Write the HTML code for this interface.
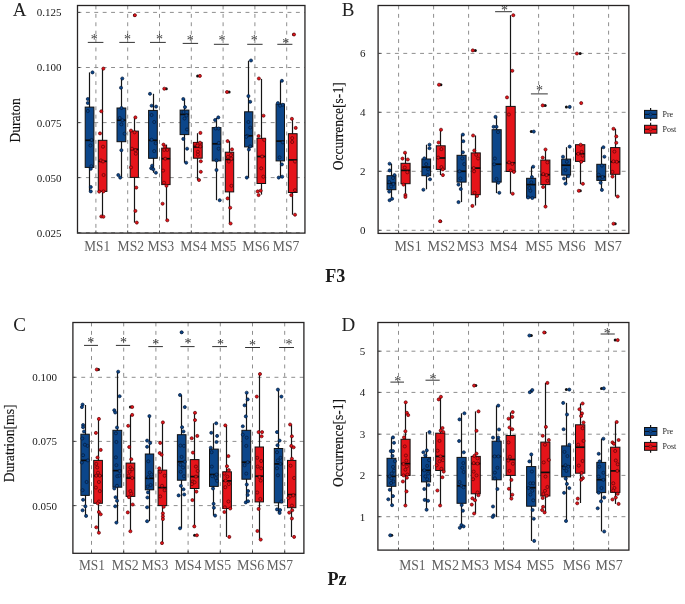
<!DOCTYPE html>
<html><head><meta charset="utf-8"><title>Microstate boxplots</title>
<style>
html,body{margin:0;padding:0;background:#fff;}
body{width:685px;height:604px;overflow:hidden;font-family:"Liberation Serif",serif;}
svg{display:block;position:absolute;left:0;top:0;}
text{font-family:"Liberation Serif",serif;filter:grayscale(1);}
.g{stroke:#8e8e8e;stroke-width:1;stroke-dasharray:3.9 4.5;fill:none;}
.w{stroke:#151515;stroke-width:1.2;}
.bx{stroke:#111;stroke-width:1;}
.m{stroke:#0c0c0c;stroke-width:1.7;}
.s{stroke:#333;stroke-width:1;}
.st{font-size:14px;fill:#3a3a3a;text-anchor:middle;}
.fr{fill:none;stroke:#262323;stroke-width:1.3;}
.tk{stroke:#444;stroke-width:1;}
.yl{font-size:11px;fill:#181818;text-anchor:end;}
.xl{font-size:13.6px;fill:#606060;}
.pb circle{fill:#0c468a;stroke:#041a3a;stroke-width:.7;}
.pr circle{fill:#e5141a;stroke:#5a0306;stroke-width:.7;}
.pb1{fill:#0c468a;stroke:#041a3a;stroke-width:.5;}
.pr1{fill:#e5141a;stroke:#5a0306;stroke-width:.5;}
.pl{font-size:19px;fill:#222;}
.tt{font-size:18.1px;font-weight:bold;fill:#1a1a1a;}
.ya{font-size:13.4px;fill:#111;stroke:#111;stroke-width:.15;text-anchor:middle;}
.lg{font-size:8px;fill:#222;}
</style></head>
<body>
<svg width="685" height="604" viewBox="0 0 685 604">
<rect x="0" y="0" width="685" height="604" fill="#fff"/>
<line x1="77.5" y1="12.4" x2="304.95" y2="12.4" class="g"/>
<line x1="77.5" y1="67.5" x2="304.95" y2="67.5" class="g"/>
<line x1="77.5" y1="122.6" x2="304.95" y2="122.6" class="g"/>
<line x1="77.5" y1="177.6" x2="304.95" y2="177.6" class="g"/>
<line x1="77.5" y1="232.7" x2="304.95" y2="232.7" class="g"/>
<line x1="95.9" y1="5.5" x2="95.9" y2="233.1" class="g"/>
<line x1="127.7" y1="5.5" x2="127.7" y2="233.1" class="g"/>
<line x1="159.5" y1="5.5" x2="159.5" y2="233.1" class="g"/>
<line x1="191.3" y1="5.5" x2="191.3" y2="233.1" class="g"/>
<line x1="223.1" y1="5.5" x2="223.1" y2="233.1" class="g"/>
<line x1="254.9" y1="5.5" x2="254.9" y2="233.1" class="g"/>
<line x1="286.7" y1="5.5" x2="286.7" y2="233.1" class="g"/>
<line x1="89.5" y1="72.4" x2="89.5" y2="191.4" class="w"/>
<rect x="85.2" y="107.1" width="8.7" height="60.3" fill="#0c468a" class="bx"/>
<line x1="85.2" y1="140.3" x2="93.9" y2="140.3" class="m"/>
<line x1="102.5" y1="68.6" x2="102.5" y2="216.5" class="w"/>
<rect x="98.3" y="140.3" width="8.6" height="51.1" fill="#e5141a" class="bx"/>
<line x1="98.3" y1="161.3" x2="106.9" y2="161.3" class="m"/>
<line x1="121.5" y1="78.5" x2="121.5" y2="177.6" class="w"/>
<rect x="117" y="108" width="8.8" height="33.7" fill="#0c468a" class="bx"/>
<line x1="117" y1="120.2" x2="125.8" y2="120.2" class="m"/>
<line x1="134.5" y1="117.4" x2="134.5" y2="222.6" class="w"/>
<rect x="130.2" y="131.1" width="8.2" height="46.3" fill="#e5141a" class="bx"/>
<line x1="130.2" y1="149.4" x2="138.4" y2="149.4" class="m"/>
<line x1="153.5" y1="93.8" x2="153.5" y2="172.7" class="w"/>
<rect x="148.6" y="110.4" width="8.7" height="47.9" fill="#0c468a" class="bx"/>
<line x1="148.6" y1="140.3" x2="157.3" y2="140.3" class="m"/>
<line x1="166.5" y1="144.6" x2="166.5" y2="220.3" class="w"/>
<rect x="161.7" y="148.1" width="8.4" height="36.5" fill="#e5141a" class="bx"/>
<line x1="161.7" y1="158.7" x2="170.1" y2="158.7" class="m"/>
<line x1="184.5" y1="99" x2="184.5" y2="162.7" class="w"/>
<rect x="180.1" y="110.1" width="8.8" height="24.5" fill="#0c468a" class="bx"/>
<line x1="180.1" y1="114.4" x2="188.9" y2="114.4" class="m"/>
<line x1="197.5" y1="133.2" x2="197.5" y2="180" class="w"/>
<rect x="193.4" y="142.4" width="8.8" height="15.8" fill="#e5141a" class="bx"/>
<line x1="193.4" y1="147" x2="202.2" y2="147" class="m"/>
<line x1="216.5" y1="118" x2="216.5" y2="200.2" class="w"/>
<rect x="212.2" y="127.6" width="8.7" height="33.3" fill="#0c468a" class="bx"/>
<line x1="212.2" y1="143.8" x2="220.9" y2="143.8" class="m"/>
<line x1="229.5" y1="141.1" x2="229.5" y2="223.5" class="w"/>
<rect x="225.3" y="152.2" width="8.4" height="39.7" fill="#e5141a" class="bx"/>
<line x1="225.3" y1="159.5" x2="233.7" y2="159.5" class="m"/>
<line x1="248.5" y1="60.7" x2="248.5" y2="177.6" class="w"/>
<rect x="244.6" y="111.8" width="8.2" height="35.1" fill="#0c468a" class="bx"/>
<line x1="244.6" y1="135.8" x2="252.8" y2="135.8" class="m"/>
<line x1="261.5" y1="78.9" x2="261.5" y2="194.6" class="w"/>
<rect x="257" y="138.3" width="8.6" height="45.2" fill="#e5141a" class="bx"/>
<line x1="257" y1="156.5" x2="265.6" y2="156.5" class="m"/>
<line x1="280.5" y1="80.8" x2="280.5" y2="177.6" class="w"/>
<rect x="276.1" y="104" width="8.4" height="56.9" fill="#0c468a" class="bx"/>
<line x1="276.1" y1="141.1" x2="284.5" y2="141.1" class="m"/>
<line x1="292.5" y1="118.8" x2="292.5" y2="214.7" class="w"/>
<rect x="288.4" y="133.7" width="8.7" height="58.8" fill="#e5141a" class="bx"/>
<line x1="288.4" y1="159.9" x2="297.1" y2="159.9" class="m"/>
<circle cx="134.5" cy="15.2" r="1.5" fill="#111"/>
<circle cx="166.3" cy="88.7" r="1.5" fill="#111"/>
<circle cx="197.6" cy="75.9" r="1.5" fill="#111"/>
<circle cx="229.1" cy="92" r="1.5" fill="#111"/>
<circle cx="293.6" cy="34.5" r="1.5" fill="#111"/>
<g class="pb">
<circle cx="92.5" cy="72.4" r="1.55"/>
<circle cx="87.8" cy="99" r="1.55"/>
<circle cx="87.8" cy="103" r="1.55"/>
<circle cx="87.8" cy="111" r="1.55"/>
<circle cx="91.6" cy="140" r="1.55"/>
<circle cx="90.4" cy="145.5" r="1.55"/>
<circle cx="91.3" cy="166.2" r="1.55"/>
<circle cx="90.8" cy="168.8" r="1.55"/>
<circle cx="90.8" cy="187" r="1.55"/>
<circle cx="90.8" cy="191.4" r="1.55"/>
</g>
<g class="pr">
<circle cx="103.4" cy="68.6" r="1.55"/>
<circle cx="101.3" cy="111.3" r="1.55"/>
<circle cx="100" cy="133.4" r="1.55"/>
<circle cx="103" cy="146.7" r="1.55"/>
<circle cx="100.9" cy="160.4" r="1.55"/>
<circle cx="103" cy="161.5" r="1.55"/>
<circle cx="103.6" cy="175" r="1.55"/>
<circle cx="99.2" cy="191.6" r="1.55"/>
<circle cx="103.4" cy="191.4" r="1.55"/>
<circle cx="101.3" cy="216.5" r="1.55"/>
<circle cx="103.4" cy="216.7" r="1.55"/>
</g>
<g class="pb">
<circle cx="122.3" cy="78.5" r="1.55"/>
<circle cx="121" cy="87.7" r="1.55"/>
<circle cx="121.5" cy="108" r="1.55"/>
<circle cx="119.7" cy="118" r="1.55"/>
<circle cx="122.5" cy="120.2" r="1.55"/>
<circle cx="121.4" cy="124.4" r="1.55"/>
<circle cx="124.6" cy="133.7" r="1.55"/>
<circle cx="121.4" cy="150.2" r="1.55"/>
<circle cx="118.3" cy="175" r="1.55"/>
<circle cx="120.2" cy="177.6" r="1.55"/>
</g>
<g class="pr">
<circle cx="135.4" cy="117.4" r="1.55"/>
<circle cx="131" cy="130.6" r="1.55"/>
<circle cx="134.6" cy="132.3" r="1.55"/>
<circle cx="132" cy="148.7" r="1.55"/>
<circle cx="135.4" cy="150.2" r="1.55"/>
<circle cx="135.8" cy="153.7" r="1.55"/>
<circle cx="131" cy="167.4" r="1.55"/>
<circle cx="136.3" cy="187.6" r="1.55"/>
<circle cx="135.4" cy="210.9" r="1.55"/>
<circle cx="136.8" cy="222.6" r="1.55"/>
<circle cx="134.9" cy="15.2" r="1.55"/>
</g>
<g class="pb">
<circle cx="150" cy="93.8" r="1.55"/>
<circle cx="151.6" cy="105.7" r="1.55"/>
<circle cx="156.1" cy="106.6" r="1.55"/>
<circle cx="151.6" cy="115" r="1.55"/>
<circle cx="154.2" cy="122" r="1.55"/>
<circle cx="151.6" cy="139.7" r="1.55"/>
<circle cx="155.6" cy="143.2" r="1.55"/>
<circle cx="154.2" cy="151.1" r="1.55"/>
<circle cx="152.1" cy="165.7" r="1.55"/>
<circle cx="151.2" cy="168.3" r="1.55"/>
<circle cx="153.3" cy="169.2" r="1.55"/>
<circle cx="155.9" cy="172.7" r="1.55"/>
</g>
<g class="pr">
<circle cx="163.5" cy="144.6" r="1.55"/>
<circle cx="164.9" cy="146.7" r="1.55"/>
<circle cx="164.3" cy="149.9" r="1.55"/>
<circle cx="167.3" cy="149.9" r="1.55"/>
<circle cx="165.2" cy="158.7" r="1.55"/>
<circle cx="163.1" cy="170.6" r="1.55"/>
<circle cx="164" cy="182.7" r="1.55"/>
<circle cx="166.5" cy="185.8" r="1.55"/>
<circle cx="162.6" cy="203.7" r="1.55"/>
<circle cx="167.3" cy="220.3" r="1.55"/>
<circle cx="164.3" cy="88.7" r="1.55"/>
</g>
<g class="pb">
<circle cx="183.3" cy="99" r="1.55"/>
<circle cx="185" cy="107.1" r="1.55"/>
<circle cx="183.5" cy="112" r="1.55"/>
<circle cx="186.5" cy="115.5" r="1.55"/>
<circle cx="184.5" cy="118.5" r="1.55"/>
<circle cx="187" cy="129.5" r="1.55"/>
<circle cx="183.3" cy="138.9" r="1.55"/>
<circle cx="187.1" cy="148.7" r="1.55"/>
<circle cx="186.2" cy="162.7" r="1.55"/>
</g>
<g class="pr">
<circle cx="200.4" cy="132.9" r="1.55"/>
<circle cx="195" cy="143.9" r="1.55"/>
<circle cx="200" cy="142.7" r="1.55"/>
<circle cx="200.3" cy="146.5" r="1.55"/>
<circle cx="197.4" cy="145.7" r="1.55"/>
<circle cx="197.9" cy="151.7" r="1.55"/>
<circle cx="197.9" cy="154.7" r="1.55"/>
<circle cx="200.8" cy="161.3" r="1.55"/>
<circle cx="200.8" cy="171.8" r="1.55"/>
<circle cx="199" cy="180" r="1.55"/>
<circle cx="199.9" cy="75.9" r="1.55"/>
</g>
<g class="pb">
<circle cx="218.3" cy="117.4" r="1.55"/>
<circle cx="215.1" cy="120" r="1.55"/>
<circle cx="215.7" cy="128.5" r="1.55"/>
<circle cx="218.6" cy="128.5" r="1.55"/>
<circle cx="218.8" cy="142.9" r="1.55"/>
<circle cx="218.6" cy="148.7" r="1.55"/>
<circle cx="216.5" cy="160.4" r="1.55"/>
<circle cx="216.5" cy="170" r="1.55"/>
<circle cx="219.7" cy="200.2" r="1.55"/>
</g>
<g class="pr">
<circle cx="227.6" cy="141.1" r="1.55"/>
<circle cx="232" cy="149.4" r="1.55"/>
<circle cx="230.9" cy="155.1" r="1.55"/>
<circle cx="227.9" cy="156.9" r="1.55"/>
<circle cx="231.4" cy="158.7" r="1.55"/>
<circle cx="228.8" cy="161.6" r="1.55"/>
<circle cx="231.4" cy="185.8" r="1.55"/>
<circle cx="227.6" cy="198.4" r="1.55"/>
<circle cx="230.2" cy="207.7" r="1.55"/>
<circle cx="230.6" cy="223.5" r="1.55"/>
<circle cx="227" cy="92" r="1.55"/>
</g>
<g class="pb">
<circle cx="251" cy="60.5" r="1.55"/>
<circle cx="248.4" cy="96.1" r="1.55"/>
<circle cx="250.2" cy="101.8" r="1.55"/>
<circle cx="248.4" cy="122" r="1.55"/>
<circle cx="250.2" cy="127.6" r="1.55"/>
<circle cx="247.2" cy="135.8" r="1.55"/>
<circle cx="246.3" cy="136.8" r="1.55"/>
<circle cx="250.2" cy="146.4" r="1.55"/>
<circle cx="248.9" cy="149.5" r="1.55"/>
<circle cx="246.8" cy="177.6" r="1.55"/>
</g>
<g class="pr">
<circle cx="258.9" cy="78.5" r="1.55"/>
<circle cx="263.5" cy="115.7" r="1.55"/>
<circle cx="258.6" cy="136" r="1.55"/>
<circle cx="264.2" cy="139.9" r="1.55"/>
<circle cx="262.1" cy="156.5" r="1.55"/>
<circle cx="261.2" cy="168.3" r="1.55"/>
<circle cx="263.3" cy="176.7" r="1.55"/>
<circle cx="260.7" cy="190.7" r="1.55"/>
<circle cx="257.7" cy="191.4" r="1.55"/>
<circle cx="258.6" cy="195.1" r="1.55"/>
</g>
<g class="pb">
<circle cx="281.9" cy="80.8" r="1.55"/>
<circle cx="277.9" cy="103.1" r="1.55"/>
<circle cx="282.8" cy="104.8" r="1.55"/>
<circle cx="280.1" cy="105.7" r="1.55"/>
<circle cx="282.8" cy="142.4" r="1.55"/>
<circle cx="279.6" cy="157.4" r="1.55"/>
<circle cx="281.9" cy="164.4" r="1.55"/>
<circle cx="278.7" cy="177.6" r="1.55"/>
<circle cx="282.2" cy="176.7" r="1.55"/>
</g>
<g class="pr">
<circle cx="291.9" cy="118.8" r="1.55"/>
<circle cx="295.7" cy="127.9" r="1.55"/>
<circle cx="292.2" cy="138.1" r="1.55"/>
<circle cx="292.2" cy="142" r="1.55"/>
<circle cx="295" cy="161.6" r="1.55"/>
<circle cx="295" cy="190.2" r="1.55"/>
<circle cx="291.3" cy="195.1" r="1.55"/>
<circle cx="295" cy="214.7" r="1.55"/>
<circle cx="294" cy="34.5" r="1.55"/>
</g>
<line x1="87.8" y1="42.4" x2="103.4" y2="42.4" class="s"/>
<text x="94.3" y="44" class="st">*</text>
<line x1="119.3" y1="42.4" x2="134.9" y2="42.4" class="s"/>
<text x="127.6" y="44.3" class="st">*</text>
<line x1="150" y1="42.4" x2="165.8" y2="42.4" class="s"/>
<text x="159.4" y="43.9" class="st">*</text>
<line x1="182.7" y1="43.4" x2="198.1" y2="43.4" class="s"/>
<text x="190.2" y="45.2" class="st">*</text>
<line x1="213.9" y1="44.3" x2="228.8" y2="44.3" class="s"/>
<text x="222.1" y="45.4" class="st">*</text>
<line x1="247.2" y1="44.3" x2="262.6" y2="44.3" class="s"/>
<text x="254.2" y="45.4" class="st">*</text>
<line x1="277.3" y1="44.3" x2="292.4" y2="44.3" class="s"/>
<text x="285.7" y="47.5" class="st">*</text>
<rect x="77.5" y="5.5" width="227.45" height="227.6" class="fr"/>
<line x1="77.5" y1="12.4" x2="80.1" y2="12.4" class="tk"/>
<line x1="77.5" y1="67.5" x2="80.1" y2="67.5" class="tk"/>
<line x1="77.5" y1="122.6" x2="80.1" y2="122.6" class="tk"/>
<line x1="77.5" y1="177.6" x2="80.1" y2="177.6" class="tk"/>
<line x1="77.5" y1="232.7" x2="80.1" y2="232.7" class="tk"/>
<line x1="95.9" y1="233.1" x2="95.9" y2="230.5" class="tk"/>
<line x1="127.7" y1="233.1" x2="127.7" y2="230.5" class="tk"/>
<line x1="159.5" y1="233.1" x2="159.5" y2="230.5" class="tk"/>
<line x1="191.3" y1="233.1" x2="191.3" y2="230.5" class="tk"/>
<line x1="223.1" y1="233.1" x2="223.1" y2="230.5" class="tk"/>
<line x1="254.9" y1="233.1" x2="254.9" y2="230.5" class="tk"/>
<line x1="286.7" y1="233.1" x2="286.7" y2="230.5" class="tk"/>
<text x="61.6" y="16.3" class="yl">0.125</text>
<text x="61.6" y="71.4" class="yl">0.100</text>
<text x="61.6" y="126.5" class="yl">0.075</text>
<text x="61.6" y="181.5" class="yl">0.050</text>
<text x="61.6" y="236.6" class="yl">0.025</text>
<text x="84.3" y="250.6" textLength="25.8" lengthAdjust="spacingAndGlyphs" class="xl">MS1</text>
<text x="117.6" y="250.6" textLength="26.5" lengthAdjust="spacingAndGlyphs" class="xl">MS2</text>
<text x="147.4" y="250.6" textLength="26.9" lengthAdjust="spacingAndGlyphs" class="xl">MS3</text>
<text x="180.3" y="250.6" textLength="26.5" lengthAdjust="spacingAndGlyphs" class="xl">MS4</text>
<text x="210.5" y="250.6" textLength="25.8" lengthAdjust="spacingAndGlyphs" class="xl">MS5</text>
<text x="242.3" y="250.6" textLength="27.3" lengthAdjust="spacingAndGlyphs" class="xl">MS6</text>
<text x="272.8" y="250.6" textLength="26.6" lengthAdjust="spacingAndGlyphs" class="xl">MS7</text>
<line x1="378.1" y1="53.4" x2="628.85" y2="53.4" class="g"/>
<line x1="378.1" y1="112.3" x2="628.85" y2="112.3" class="g"/>
<line x1="378.1" y1="171.3" x2="628.85" y2="171.3" class="g"/>
<line x1="378.1" y1="230.3" x2="628.85" y2="230.3" class="g"/>
<line x1="398.6" y1="5.5" x2="398.6" y2="233.4" class="g"/>
<line x1="433.6" y1="5.5" x2="433.6" y2="233.4" class="g"/>
<line x1="468.6" y1="5.5" x2="468.6" y2="233.4" class="g"/>
<line x1="538.6" y1="5.5" x2="538.6" y2="233.4" class="g"/>
<line x1="573.6" y1="5.5" x2="573.6" y2="233.4" class="g"/>
<line x1="608.6" y1="5.5" x2="608.6" y2="233.4" class="g"/>
<line x1="391.5" y1="163.7" x2="391.5" y2="199.8" class="w"/>
<rect x="387" y="175.7" width="8.9" height="14" fill="#0c468a" class="bx"/>
<line x1="387" y1="183.3" x2="395.9" y2="183.3" class="m"/>
<line x1="405.5" y1="152.7" x2="405.5" y2="196.6" class="w"/>
<rect x="401" y="163.3" width="9.1" height="20.4" fill="#e5141a" class="bx"/>
<line x1="401" y1="170.4" x2="410.1" y2="170.4" class="m"/>
<line x1="426.5" y1="144.7" x2="426.5" y2="189.3" class="w"/>
<rect x="421.9" y="159" width="8.7" height="16.7" fill="#0c468a" class="bx"/>
<line x1="421.9" y1="167.1" x2="430.6" y2="167.1" class="m"/>
<line x1="440.5" y1="129.7" x2="440.5" y2="175.1" class="w"/>
<rect x="436.3" y="145.8" width="8.9" height="23.6" fill="#e5141a" class="bx"/>
<line x1="436.3" y1="158" x2="445.2" y2="158" class="m"/>
<line x1="461.5" y1="134.6" x2="461.5" y2="202.1" class="w"/>
<rect x="457" y="155.3" width="9.1" height="26.8" fill="#0c468a" class="bx"/>
<line x1="457" y1="171.3" x2="466.1" y2="171.3" class="m"/>
<line x1="475.5" y1="135.5" x2="475.5" y2="205.5" class="w"/>
<rect x="471.2" y="152.9" width="9.1" height="41.8" fill="#e5141a" class="bx"/>
<line x1="471.2" y1="168.1" x2="480.3" y2="168.1" class="m"/>
<line x1="496.5" y1="116.9" x2="496.5" y2="193.1" class="w"/>
<rect x="492.1" y="129.7" width="9.1" height="52.4" fill="#0c468a" class="bx"/>
<line x1="492.1" y1="164.2" x2="501.2" y2="164.2" class="m"/>
<line x1="510.5" y1="15.2" x2="510.5" y2="193.7" class="w"/>
<rect x="506.1" y="106.4" width="9.1" height="65.1" fill="#e5141a" class="bx"/>
<line x1="506.1" y1="162.8" x2="515.2" y2="162.8" class="m"/>
<line x1="531.5" y1="166.7" x2="531.5" y2="197.8" class="w"/>
<rect x="526.6" y="178.3" width="9.1" height="19.5" fill="#0c468a" class="bx"/>
<line x1="526.6" y1="184.6" x2="535.7" y2="184.6" class="m"/>
<line x1="545.5" y1="149.5" x2="545.5" y2="206.6" class="w"/>
<rect x="540.8" y="160.1" width="9.1" height="24.5" fill="#e5141a" class="bx"/>
<line x1="540.8" y1="174.7" x2="549.9" y2="174.7" class="m"/>
<line x1="566.5" y1="147.2" x2="566.5" y2="183.6" class="w"/>
<rect x="561.7" y="159.1" width="8.9" height="16" fill="#0c468a" class="bx"/>
<line x1="561.7" y1="165.2" x2="570.6" y2="165.2" class="m"/>
<line x1="580.5" y1="144.7" x2="580.5" y2="184.2" class="w"/>
<rect x="575.5" y="144.7" width="9.3" height="16.7" fill="#e5141a" class="bx"/>
<line x1="575.5" y1="153.8" x2="584.8" y2="153.8" class="m"/>
<line x1="601.5" y1="147.2" x2="601.5" y2="189.9" class="w"/>
<rect x="596.8" y="164.3" width="8.9" height="16.1" fill="#0c468a" class="bx"/>
<line x1="596.8" y1="176.6" x2="605.7" y2="176.6" class="m"/>
<line x1="615.5" y1="128.8" x2="615.5" y2="196.5" class="w"/>
<rect x="610.6" y="147.6" width="9.3" height="26.7" fill="#e5141a" class="bx"/>
<line x1="610.6" y1="161.8" x2="619.9" y2="161.8" class="m"/>
<circle cx="440.9" cy="84.7" r="1.5" fill="#111"/>
<circle cx="440.6" cy="221.2" r="1.5" fill="#111"/>
<circle cx="475.3" cy="50.4" r="1.5" fill="#111"/>
<circle cx="531.3" cy="131.6" r="1.5" fill="#111"/>
<circle cx="545.2" cy="105.4" r="1.5" fill="#111"/>
<circle cx="566.4" cy="106.9" r="1.5" fill="#111"/>
<circle cx="580.1" cy="53.5" r="1.5" fill="#111"/>
<circle cx="580.3" cy="190.8" r="1.5" fill="#111"/>
<circle cx="615.2" cy="223.7" r="1.5" fill="#111"/>
<g class="pb">
<circle cx="389.6" cy="163.7" r="1.55"/>
<circle cx="389.6" cy="170.4" r="1.55"/>
<circle cx="394.5" cy="175.1" r="1.55"/>
<circle cx="393" cy="178" r="1.55"/>
<circle cx="389.2" cy="182.1" r="1.55"/>
<circle cx="393.4" cy="184" r="1.55"/>
<circle cx="391.1" cy="186.5" r="1.55"/>
<circle cx="389.2" cy="191.6" r="1.55"/>
<circle cx="392.1" cy="198.8" r="1.55"/>
<circle cx="389.6" cy="200.2" r="1.55"/>
</g>
<g class="pr">
<circle cx="405" cy="152.7" r="1.55"/>
<circle cx="402.5" cy="158.6" r="1.55"/>
<circle cx="407.8" cy="159.5" r="1.55"/>
<circle cx="404.8" cy="167.5" r="1.55"/>
<circle cx="407.3" cy="172.3" r="1.55"/>
<circle cx="403.5" cy="184.6" r="1.55"/>
<circle cx="405.4" cy="195" r="1.55"/>
<circle cx="405.4" cy="196.9" r="1.55"/>
</g>
<g class="pb">
<circle cx="429.5" cy="144.7" r="1.55"/>
<circle cx="429.5" cy="148.2" r="1.55"/>
<circle cx="424.3" cy="158.4" r="1.55"/>
<circle cx="426.2" cy="164.1" r="1.55"/>
<circle cx="428.1" cy="169.4" r="1.55"/>
<circle cx="427.6" cy="175.1" r="1.55"/>
<circle cx="430" cy="179.3" r="1.55"/>
<circle cx="423.4" cy="189.7" r="1.55"/>
</g>
<g class="pr">
<circle cx="441" cy="129.7" r="1.55"/>
<circle cx="438.6" cy="142.5" r="1.55"/>
<circle cx="441.4" cy="149.1" r="1.55"/>
<circle cx="438.2" cy="157.6" r="1.55"/>
<circle cx="441.4" cy="167.1" r="1.55"/>
<circle cx="442.8" cy="169.4" r="1.55"/>
<circle cx="442.9" cy="175.1" r="1.55"/>
<circle cx="439" cy="84.7" r="1.55"/>
<circle cx="440.1" cy="221.2" r="1.55"/>
</g>
<g class="pb">
<circle cx="462.9" cy="134.6" r="1.55"/>
<circle cx="463.3" cy="141.2" r="1.55"/>
<circle cx="462.9" cy="152.3" r="1.55"/>
<circle cx="462.3" cy="158.4" r="1.55"/>
<circle cx="464.2" cy="164.1" r="1.55"/>
<circle cx="459.5" cy="171.3" r="1.55"/>
<circle cx="460.4" cy="178.5" r="1.55"/>
<circle cx="458.5" cy="184.6" r="1.55"/>
<circle cx="460.8" cy="189" r="1.55"/>
<circle cx="458.5" cy="202.1" r="1.55"/>
</g>
<g class="pr">
<circle cx="473.1" cy="135.5" r="1.55"/>
<circle cx="474.3" cy="150.5" r="1.55"/>
<circle cx="476.2" cy="154.8" r="1.55"/>
<circle cx="478.1" cy="158.5" r="1.55"/>
<circle cx="473.7" cy="168.1" r="1.55"/>
<circle cx="474.1" cy="171.3" r="1.55"/>
<circle cx="474.6" cy="192.8" r="1.55"/>
<circle cx="477.1" cy="196" r="1.55"/>
<circle cx="472.4" cy="205.9" r="1.55"/>
<circle cx="472.8" cy="50.4" r="1.55"/>
</g>
<g class="pb">
<circle cx="495.5" cy="116.9" r="1.55"/>
<circle cx="493.6" cy="126.8" r="1.55"/>
<circle cx="496.5" cy="126.8" r="1.55"/>
<circle cx="498" cy="132.1" r="1.55"/>
<circle cx="494.9" cy="158.5" r="1.55"/>
<circle cx="494.2" cy="164.3" r="1.55"/>
<circle cx="496.5" cy="178.9" r="1.55"/>
<circle cx="498.4" cy="182.7" r="1.55"/>
<circle cx="499.3" cy="192.8" r="1.55"/>
</g>
<g class="pr">
<circle cx="513.3" cy="15.2" r="1.55"/>
<circle cx="512.3" cy="70.8" r="1.55"/>
<circle cx="507" cy="97.4" r="1.55"/>
<circle cx="508.9" cy="114.5" r="1.55"/>
<circle cx="509.1" cy="162.4" r="1.55"/>
<circle cx="512.3" cy="163.9" r="1.55"/>
<circle cx="510.8" cy="170.5" r="1.55"/>
<circle cx="513.9" cy="171.9" r="1.55"/>
<circle cx="512.7" cy="193.7" r="1.55"/>
</g>
<g class="pb">
<circle cx="533.2" cy="166.7" r="1.55"/>
<circle cx="531.9" cy="177" r="1.55"/>
<circle cx="531.3" cy="182.3" r="1.55"/>
<circle cx="529.4" cy="188" r="1.55"/>
<circle cx="530.4" cy="190.8" r="1.55"/>
<circle cx="528.1" cy="197.5" r="1.55"/>
<circle cx="532.3" cy="198" r="1.55"/>
<circle cx="533.8" cy="131.6" r="1.55"/>
</g>
<g class="pr">
<circle cx="545.5" cy="149.5" r="1.55"/>
<circle cx="542.7" cy="157.6" r="1.55"/>
<circle cx="547.4" cy="162.4" r="1.55"/>
<circle cx="543.3" cy="174.1" r="1.55"/>
<circle cx="546.5" cy="175.1" r="1.55"/>
<circle cx="547.4" cy="180.8" r="1.55"/>
<circle cx="543.1" cy="187" r="1.55"/>
<circle cx="545.5" cy="206.6" r="1.55"/>
<circle cx="542.7" cy="105.4" r="1.55"/>
</g>
<g class="pb">
<circle cx="569.7" cy="146.6" r="1.55"/>
<circle cx="563" cy="156.7" r="1.55"/>
<circle cx="566.8" cy="161.8" r="1.55"/>
<circle cx="565.5" cy="170" r="1.55"/>
<circle cx="568.3" cy="176.2" r="1.55"/>
<circle cx="564" cy="178.5" r="1.55"/>
<circle cx="565.5" cy="183.6" r="1.55"/>
<circle cx="569.7" cy="106.9" r="1.55"/>
</g>
<g class="pr">
<circle cx="580.7" cy="144.7" r="1.55"/>
<circle cx="581.6" cy="151.9" r="1.55"/>
<circle cx="578.2" cy="153.8" r="1.55"/>
<circle cx="582.6" cy="155.7" r="1.55"/>
<circle cx="581.2" cy="161.8" r="1.55"/>
<circle cx="582.9" cy="183.8" r="1.55"/>
<circle cx="581.2" cy="103.1" r="1.55"/>
<circle cx="576.9" cy="53.5" r="1.55"/>
<circle cx="578.8" cy="190.8" r="1.55"/>
</g>
<g class="pb">
<circle cx="603.4" cy="147.2" r="1.55"/>
<circle cx="604.4" cy="156.7" r="1.55"/>
<circle cx="601.9" cy="165.6" r="1.55"/>
<circle cx="598.7" cy="174.7" r="1.55"/>
<circle cx="602.5" cy="177" r="1.55"/>
<circle cx="599.6" cy="178.5" r="1.55"/>
<circle cx="600.6" cy="182.7" r="1.55"/>
<circle cx="601.9" cy="189.9" r="1.55"/>
</g>
<g class="pr">
<circle cx="613.5" cy="128.8" r="1.55"/>
<circle cx="616.3" cy="136.4" r="1.55"/>
<circle cx="616.3" cy="142.8" r="1.55"/>
<circle cx="614.4" cy="151.6" r="1.55"/>
<circle cx="613.5" cy="161.4" r="1.55"/>
<circle cx="616.7" cy="161.8" r="1.55"/>
<circle cx="612.5" cy="171.9" r="1.55"/>
<circle cx="612.5" cy="176.6" r="1.55"/>
<circle cx="617.7" cy="196.5" r="1.55"/>
<circle cx="613.5" cy="223.7" r="1.55"/>
</g>
<line x1="495.1" y1="11.7" x2="511.9" y2="11.7" class="s"/>
<text x="504.5" y="15.2" class="st">*</text>
<line x1="530.9" y1="93.9" x2="547.8" y2="93.9" class="s"/>
<text x="539.5" y="95.3" class="st">*</text>
<rect x="378.1" y="5.5" width="250.75" height="227.9" class="fr"/>
<line x1="378.1" y1="53.4" x2="380.7" y2="53.4" class="tk"/>
<line x1="378.1" y1="112.3" x2="380.7" y2="112.3" class="tk"/>
<line x1="378.1" y1="171.3" x2="380.7" y2="171.3" class="tk"/>
<line x1="378.1" y1="230.3" x2="380.7" y2="230.3" class="tk"/>
<line x1="398.6" y1="233.4" x2="398.6" y2="230.8" class="tk"/>
<line x1="433.6" y1="233.4" x2="433.6" y2="230.8" class="tk"/>
<line x1="468.6" y1="233.4" x2="468.6" y2="230.8" class="tk"/>
<line x1="503.6" y1="233.4" x2="503.6" y2="230.8" class="tk"/>
<line x1="538.6" y1="233.4" x2="538.6" y2="230.8" class="tk"/>
<line x1="573.6" y1="233.4" x2="573.6" y2="230.8" class="tk"/>
<line x1="608.6" y1="233.4" x2="608.6" y2="230.8" class="tk"/>
<text x="365.5" y="57.3" class="yl">6</text>
<text x="365.5" y="116.2" class="yl">4</text>
<text x="365.5" y="175.2" class="yl">2</text>
<text x="365.5" y="234.2" class="yl">0</text>
<text x="394.4" y="250.8" textLength="27.3" lengthAdjust="spacingAndGlyphs" class="xl">MS1</text>
<text x="427.5" y="250.8" textLength="27.7" lengthAdjust="spacingAndGlyphs" class="xl">MS2</text>
<text x="456.7" y="250.8" textLength="27.2" lengthAdjust="spacingAndGlyphs" class="xl">MS3</text>
<text x="489.8" y="250.8" textLength="27.6" lengthAdjust="spacingAndGlyphs" class="xl">MS4</text>
<text x="525.3" y="250.8" textLength="27.6" lengthAdjust="spacingAndGlyphs" class="xl">MS5</text>
<text x="558" y="250.8" textLength="27.6" lengthAdjust="spacingAndGlyphs" class="xl">MS6</text>
<text x="594.3" y="250.8" textLength="27.6" lengthAdjust="spacingAndGlyphs" class="xl">MS7</text>
<line x1="72.9" y1="377.3" x2="303.9" y2="377.3" class="g"/>
<line x1="72.9" y1="441.4" x2="303.9" y2="441.4" class="g"/>
<line x1="72.9" y1="505.6" x2="303.9" y2="505.6" class="g"/>
<line x1="91.5" y1="322.5" x2="91.5" y2="553.3" class="g"/>
<line x1="123.7" y1="322.5" x2="123.7" y2="553.3" class="g"/>
<line x1="155.9" y1="322.5" x2="155.9" y2="553.3" class="g"/>
<line x1="188.1" y1="322.5" x2="188.1" y2="553.3" class="g"/>
<line x1="220.3" y1="322.5" x2="220.3" y2="553.3" class="g"/>
<line x1="252.5" y1="322.5" x2="252.5" y2="553.3" class="g"/>
<line x1="284.7" y1="322.5" x2="284.7" y2="553.3" class="g"/>
<line x1="85.5" y1="405" x2="85.5" y2="515.9" class="w"/>
<rect x="80.9" y="434.2" width="8.4" height="61.2" fill="#0c468a" class="bx"/>
<line x1="80.9" y1="460.4" x2="89.3" y2="460.4" class="m"/>
<line x1="98.5" y1="418.9" x2="98.5" y2="532.7" class="w"/>
<rect x="93.7" y="460.4" width="8.7" height="42.9" fill="#e5141a" class="bx"/>
<line x1="93.7" y1="475.7" x2="102.4" y2="475.7" class="m"/>
<line x1="117.5" y1="371.7" x2="117.5" y2="522.6" class="w"/>
<rect x="112.9" y="430.3" width="8.8" height="56.9" fill="#0c468a" class="bx"/>
<line x1="112.9" y1="470.6" x2="121.7" y2="470.6" class="m"/>
<line x1="130.5" y1="414.9" x2="130.5" y2="531.3" class="w"/>
<rect x="126.1" y="463.1" width="8.7" height="33.3" fill="#e5141a" class="bx"/>
<line x1="126.1" y1="478" x2="134.8" y2="478" class="m"/>
<line x1="149.5" y1="416.1" x2="149.5" y2="521.2" class="w"/>
<rect x="145.3" y="454" width="8.4" height="35.8" fill="#0c468a" class="bx"/>
<line x1="145.3" y1="478.3" x2="153.7" y2="478.3" class="m"/>
<line x1="162.5" y1="422.4" x2="162.5" y2="543.1" class="w"/>
<rect x="158.1" y="470.1" width="8.6" height="35.5" fill="#e5141a" class="bx"/>
<line x1="158.1" y1="487.6" x2="166.7" y2="487.6" class="m"/>
<line x1="181.5" y1="395" x2="181.5" y2="528.3" class="w"/>
<rect x="177.4" y="434.7" width="8.6" height="45.5" fill="#0c468a" class="bx"/>
<line x1="177.4" y1="461.7" x2="186" y2="461.7" class="m"/>
<line x1="194.5" y1="412.8" x2="194.5" y2="526.4" class="w"/>
<rect x="190.3" y="459.6" width="8.7" height="28.9" fill="#e5141a" class="bx"/>
<line x1="190.3" y1="476.6" x2="199" y2="476.6" class="m"/>
<line x1="213.5" y1="423.3" x2="213.5" y2="515.6" class="w"/>
<rect x="209.5" y="449.1" width="8.8" height="37.3" fill="#0c468a" class="bx"/>
<line x1="209.5" y1="474.5" x2="218.3" y2="474.5" class="m"/>
<line x1="226.5" y1="425.4" x2="226.5" y2="536.9" class="w"/>
<rect x="222.7" y="471.8" width="8.7" height="36.7" fill="#e5141a" class="bx"/>
<line x1="222.7" y1="480.9" x2="231.4" y2="480.9" class="m"/>
<line x1="246.5" y1="392.7" x2="246.5" y2="502.4" class="w"/>
<rect x="241.9" y="430.3" width="8.8" height="48.9" fill="#0c468a" class="bx"/>
<line x1="241.9" y1="462.2" x2="250.7" y2="462.2" class="m"/>
<line x1="259.5" y1="374" x2="259.5" y2="539.6" class="w"/>
<rect x="255.1" y="447" width="8.4" height="54.9" fill="#e5141a" class="bx"/>
<line x1="255.1" y1="476.2" x2="263.5" y2="476.2" class="m"/>
<line x1="278.5" y1="389.6" x2="278.5" y2="512.9" class="w"/>
<rect x="274.3" y="448.5" width="8.5" height="54.3" fill="#0c468a" class="bx"/>
<line x1="274.3" y1="463.9" x2="282.8" y2="463.9" class="m"/>
<line x1="291.5" y1="424.5" x2="291.5" y2="536.9" class="w"/>
<rect x="287.5" y="460.4" width="8.4" height="47.3" fill="#e5141a" class="bx"/>
<line x1="287.5" y1="494.6" x2="295.9" y2="494.6" class="m"/>
<circle cx="98.5" cy="369.5" r="1.5" fill="#111"/>
<circle cx="130.4" cy="407" r="1.5" fill="#111"/>
<circle cx="181.8" cy="332.3" r="1.5" fill="#111"/>
<circle cx="194.6" cy="535.3" r="1.5" fill="#111"/>
<g class="pb">
<circle cx="82.6" cy="404.6" r="1.55"/>
<circle cx="81.9" cy="407.1" r="1.55"/>
<circle cx="83.1" cy="425" r="1.55"/>
<circle cx="83.1" cy="427.2" r="1.55"/>
<circle cx="84" cy="431.5" r="1.55"/>
<circle cx="82.3" cy="438.5" r="1.55"/>
<circle cx="87.5" cy="445.9" r="1.55"/>
<circle cx="84.9" cy="444.7" r="1.55"/>
<circle cx="83.1" cy="455.2" r="1.55"/>
<circle cx="87.9" cy="460.4" r="1.55"/>
<circle cx="81.9" cy="462.5" r="1.55"/>
<circle cx="86.6" cy="482" r="1.55"/>
<circle cx="82.6" cy="490.2" r="1.55"/>
<circle cx="83.1" cy="499.8" r="1.55"/>
<circle cx="85.4" cy="506.3" r="1.55"/>
<circle cx="82.6" cy="510.3" r="1.55"/>
<circle cx="86.1" cy="515.9" r="1.55"/>
</g>
<g class="pr">
<circle cx="98.9" cy="418.9" r="1.55"/>
<circle cx="95.9" cy="432.9" r="1.55"/>
<circle cx="100.7" cy="449.9" r="1.55"/>
<circle cx="97.5" cy="457.5" r="1.55"/>
<circle cx="96.3" cy="463.9" r="1.55"/>
<circle cx="97.2" cy="467.5" r="1.55"/>
<circle cx="98" cy="472.7" r="1.55"/>
<circle cx="96.3" cy="475.7" r="1.55"/>
<circle cx="99.8" cy="475.7" r="1.55"/>
<circle cx="98.9" cy="482" r="1.55"/>
<circle cx="95.9" cy="487.6" r="1.55"/>
<circle cx="99.8" cy="491.1" r="1.55"/>
<circle cx="98.9" cy="501.5" r="1.55"/>
<circle cx="97.7" cy="503.3" r="1.55"/>
<circle cx="98.9" cy="512" r="1.55"/>
<circle cx="100.7" cy="514.3" r="1.55"/>
<circle cx="96.3" cy="527.3" r="1.55"/>
<circle cx="98.9" cy="532.7" r="1.55"/>
<circle cx="96.8" cy="369.5" r="1.55"/>
</g>
<g class="pb">
<circle cx="118.2" cy="371.7" r="1.55"/>
<circle cx="119.6" cy="396.2" r="1.55"/>
<circle cx="114.3" cy="410.2" r="1.55"/>
<circle cx="115.2" cy="412.5" r="1.55"/>
<circle cx="117" cy="427.5" r="1.55"/>
<circle cx="115.9" cy="433.3" r="1.55"/>
<circle cx="116.4" cy="442" r="1.55"/>
<circle cx="115.9" cy="457.3" r="1.55"/>
<circle cx="116.4" cy="465.2" r="1.55"/>
<circle cx="119.6" cy="471" r="1.55"/>
<circle cx="117.3" cy="476.2" r="1.55"/>
<circle cx="119.4" cy="475.7" r="1.55"/>
<circle cx="117" cy="485.8" r="1.55"/>
<circle cx="114.3" cy="488.5" r="1.55"/>
<circle cx="115.6" cy="497.2" r="1.55"/>
<circle cx="117" cy="500.7" r="1.55"/>
<circle cx="115.2" cy="506.3" r="1.55"/>
<circle cx="116.4" cy="522.6" r="1.55"/>
</g>
<g class="pr">
<circle cx="132.2" cy="414.9" r="1.55"/>
<circle cx="128.2" cy="425.8" r="1.55"/>
<circle cx="129.2" cy="447" r="1.55"/>
<circle cx="131.3" cy="459.2" r="1.55"/>
<circle cx="130.4" cy="467.4" r="1.55"/>
<circle cx="132.2" cy="469.2" r="1.55"/>
<circle cx="129.6" cy="471.8" r="1.55"/>
<circle cx="128.7" cy="475.7" r="1.55"/>
<circle cx="132.2" cy="478" r="1.55"/>
<circle cx="130.4" cy="491.1" r="1.55"/>
<circle cx="131.3" cy="493.7" r="1.55"/>
<circle cx="129" cy="497.2" r="1.55"/>
<circle cx="132.7" cy="504.5" r="1.55"/>
<circle cx="127.8" cy="512.4" r="1.55"/>
<circle cx="130.4" cy="531.3" r="1.55"/>
<circle cx="132.2" cy="407" r="1.55"/>
</g>
<g class="pb">
<circle cx="149.4" cy="416.1" r="1.55"/>
<circle cx="147.1" cy="440.6" r="1.55"/>
<circle cx="150.2" cy="442.9" r="1.55"/>
<circle cx="147.1" cy="446.8" r="1.55"/>
<circle cx="148.3" cy="461.3" r="1.55"/>
<circle cx="149.7" cy="472.7" r="1.55"/>
<circle cx="151.5" cy="474.5" r="1.55"/>
<circle cx="148.3" cy="477.1" r="1.55"/>
<circle cx="150.6" cy="485" r="1.55"/>
<circle cx="147.6" cy="486.7" r="1.55"/>
<circle cx="148" cy="492.4" r="1.55"/>
<circle cx="147.4" cy="497.5" r="1.55"/>
<circle cx="147.1" cy="507.3" r="1.55"/>
<circle cx="147.1" cy="521.2" r="1.55"/>
</g>
<g class="pr">
<circle cx="162.9" cy="422.4" r="1.55"/>
<circle cx="160.2" cy="442.9" r="1.55"/>
<circle cx="159.7" cy="453.1" r="1.55"/>
<circle cx="161.6" cy="454.7" r="1.55"/>
<circle cx="159.3" cy="468.3" r="1.55"/>
<circle cx="160.2" cy="471.8" r="1.55"/>
<circle cx="164.6" cy="475.7" r="1.55"/>
<circle cx="162" cy="485.8" r="1.55"/>
<circle cx="164.6" cy="490.2" r="1.55"/>
<circle cx="160.2" cy="496.4" r="1.55"/>
<circle cx="163.7" cy="506.8" r="1.55"/>
<circle cx="162.9" cy="513.4" r="1.55"/>
<circle cx="162.9" cy="516.4" r="1.55"/>
<circle cx="162.9" cy="519.1" r="1.55"/>
<circle cx="162" cy="543.1" r="1.55"/>
</g>
<g class="pb">
<circle cx="180" cy="395" r="1.55"/>
<circle cx="184.8" cy="407.1" r="1.55"/>
<circle cx="182.1" cy="427.2" r="1.55"/>
<circle cx="183.5" cy="431.5" r="1.55"/>
<circle cx="180.4" cy="445.6" r="1.55"/>
<circle cx="183.9" cy="445.9" r="1.55"/>
<circle cx="181.6" cy="456.9" r="1.55"/>
<circle cx="184.8" cy="461.7" r="1.55"/>
<circle cx="180.4" cy="464.8" r="1.55"/>
<circle cx="183" cy="467.5" r="1.55"/>
<circle cx="180.7" cy="471.8" r="1.55"/>
<circle cx="183.9" cy="476.2" r="1.55"/>
<circle cx="180.9" cy="485.8" r="1.55"/>
<circle cx="183.5" cy="489.3" r="1.55"/>
<circle cx="178.6" cy="495.4" r="1.55"/>
<circle cx="184.2" cy="494.5" r="1.55"/>
<circle cx="180" cy="528.3" r="1.55"/>
<circle cx="181.6" cy="332.3" r="1.55"/>
</g>
<g class="pr">
<circle cx="195" cy="412.8" r="1.55"/>
<circle cx="195" cy="420.1" r="1.55"/>
<circle cx="197.3" cy="435.9" r="1.55"/>
<circle cx="191.7" cy="438.2" r="1.55"/>
<circle cx="192.9" cy="452.6" r="1.55"/>
<circle cx="195.9" cy="466.6" r="1.55"/>
<circle cx="197.6" cy="471" r="1.55"/>
<circle cx="195.9" cy="476.6" r="1.55"/>
<circle cx="192.9" cy="481.5" r="1.55"/>
<circle cx="194.6" cy="482.3" r="1.55"/>
<circle cx="192" cy="484.1" r="1.55"/>
<circle cx="196.4" cy="491.6" r="1.55"/>
<circle cx="192.4" cy="500.1" r="1.55"/>
<circle cx="194.3" cy="526.4" r="1.55"/>
<circle cx="196.9" cy="535.3" r="1.55"/>
</g>
<g class="pb">
<circle cx="216.2" cy="423.3" r="1.55"/>
<circle cx="211.3" cy="432.8" r="1.55"/>
<circle cx="217.1" cy="435.9" r="1.55"/>
<circle cx="216.5" cy="442" r="1.55"/>
<circle cx="210.8" cy="447.7" r="1.55"/>
<circle cx="211.6" cy="452.2" r="1.55"/>
<circle cx="211.8" cy="466.6" r="1.55"/>
<circle cx="216.5" cy="474.5" r="1.55"/>
<circle cx="212.2" cy="476.2" r="1.55"/>
<circle cx="215.7" cy="478" r="1.55"/>
<circle cx="217.1" cy="480.9" r="1.55"/>
<circle cx="213" cy="488.5" r="1.55"/>
<circle cx="213.6" cy="503.8" r="1.55"/>
<circle cx="213.9" cy="507.7" r="1.55"/>
<circle cx="215.1" cy="515.6" r="1.55"/>
</g>
<g class="pr">
<circle cx="225.3" cy="425.4" r="1.55"/>
<circle cx="228.4" cy="456.1" r="1.55"/>
<circle cx="227" cy="466.2" r="1.55"/>
<circle cx="228.8" cy="470.1" r="1.55"/>
<circle cx="224.4" cy="473.6" r="1.55"/>
<circle cx="227.4" cy="476.6" r="1.55"/>
<circle cx="225.6" cy="480.6" r="1.55"/>
<circle cx="228.8" cy="484.1" r="1.55"/>
<circle cx="225.3" cy="487.2" r="1.55"/>
<circle cx="228.4" cy="501.5" r="1.55"/>
<circle cx="224.9" cy="507.3" r="1.55"/>
<circle cx="230.2" cy="508.5" r="1.55"/>
<circle cx="224.4" cy="512" r="1.55"/>
<circle cx="229.3" cy="536.9" r="1.55"/>
</g>
<g class="pb">
<circle cx="246.7" cy="392.7" r="1.55"/>
<circle cx="247.7" cy="399.4" r="1.55"/>
<circle cx="244.6" cy="405.3" r="1.55"/>
<circle cx="245.8" cy="416.4" r="1.55"/>
<circle cx="242.8" cy="426.3" r="1.55"/>
<circle cx="242.8" cy="434.7" r="1.55"/>
<circle cx="246.7" cy="437.7" r="1.55"/>
<circle cx="246.3" cy="445.9" r="1.55"/>
<circle cx="247.7" cy="462.2" r="1.55"/>
<circle cx="244.6" cy="465.2" r="1.55"/>
<circle cx="246.3" cy="473.6" r="1.55"/>
<circle cx="246.8" cy="484.5" r="1.55"/>
<circle cx="248.1" cy="491" r="1.55"/>
<circle cx="247.7" cy="494.9" r="1.55"/>
<circle cx="245.8" cy="502.4" r="1.55"/>
<circle cx="248.1" cy="501.2" r="1.55"/>
</g>
<g class="pr">
<circle cx="260" cy="374" r="1.55"/>
<circle cx="256.8" cy="396.6" r="1.55"/>
<circle cx="258.6" cy="432.1" r="1.55"/>
<circle cx="262.1" cy="432.1" r="1.55"/>
<circle cx="261.6" cy="436.3" r="1.55"/>
<circle cx="257.2" cy="457.8" r="1.55"/>
<circle cx="261.2" cy="461" r="1.55"/>
<circle cx="257.7" cy="466.6" r="1.55"/>
<circle cx="261.2" cy="468.3" r="1.55"/>
<circle cx="259.5" cy="477.1" r="1.55"/>
<circle cx="260.7" cy="480.6" r="1.55"/>
<circle cx="257.2" cy="492.5" r="1.55"/>
<circle cx="260.3" cy="498.9" r="1.55"/>
<circle cx="258.6" cy="508.9" r="1.55"/>
<circle cx="257.4" cy="531" r="1.55"/>
<circle cx="260.7" cy="539.6" r="1.55"/>
</g>
<g class="pb">
<circle cx="277.9" cy="389.6" r="1.55"/>
<circle cx="281.4" cy="396.6" r="1.55"/>
<circle cx="277" cy="432.1" r="1.55"/>
<circle cx="279.6" cy="440.6" r="1.55"/>
<circle cx="277.5" cy="445.2" r="1.55"/>
<circle cx="277" cy="452.2" r="1.55"/>
<circle cx="280.5" cy="457.8" r="1.55"/>
<circle cx="277.9" cy="460.4" r="1.55"/>
<circle cx="280.5" cy="463.9" r="1.55"/>
<circle cx="277" cy="468.3" r="1.55"/>
<circle cx="277.9" cy="475.3" r="1.55"/>
<circle cx="281.4" cy="501.5" r="1.55"/>
<circle cx="277" cy="509.4" r="1.55"/>
<circle cx="280.1" cy="510" r="1.55"/>
<circle cx="279.6" cy="512.9" r="1.55"/>
</g>
<g class="pr">
<circle cx="290.1" cy="424.5" r="1.55"/>
<circle cx="291.9" cy="436.3" r="1.55"/>
<circle cx="291.3" cy="445.9" r="1.55"/>
<circle cx="293.6" cy="447.3" r="1.55"/>
<circle cx="291.9" cy="458.7" r="1.55"/>
<circle cx="290.6" cy="465.7" r="1.55"/>
<circle cx="294.1" cy="478" r="1.55"/>
<circle cx="290.1" cy="496.3" r="1.55"/>
<circle cx="293.3" cy="495.4" r="1.55"/>
<circle cx="288.4" cy="498" r="1.55"/>
<circle cx="291.9" cy="505.6" r="1.55"/>
<circle cx="289.2" cy="512.6" r="1.55"/>
<circle cx="292.2" cy="510.3" r="1.55"/>
<circle cx="291.9" cy="518.5" r="1.55"/>
<circle cx="294.1" cy="536.9" r="1.55"/>
</g>
<line x1="84" y1="345.4" x2="98" y2="345.4" class="s"/>
<text x="90.8" y="347" class="st">*</text>
<line x1="115.9" y1="345.4" x2="130.1" y2="345.4" class="s"/>
<text x="123.4" y="347" class="st">*</text>
<line x1="148.3" y1="346.6" x2="162.9" y2="346.6" class="s"/>
<text x="155.8" y="348.8" class="st">*</text>
<line x1="180.4" y1="346.6" x2="194.6" y2="346.6" class="s"/>
<text x="187.9" y="347.9" class="st">*</text>
<line x1="212.2" y1="346.6" x2="227" y2="346.6" class="s"/>
<text x="220.6" y="348.8" class="st">*</text>
<line x1="245.1" y1="347.5" x2="260" y2="347.5" class="s"/>
<text x="252.5" y="350" class="st">*</text>
<line x1="279.1" y1="347.5" x2="294" y2="347.5" class="s"/>
<text x="288.9" y="349.1" class="st">*</text>
<rect x="72.9" y="322.5" width="231" height="230.8" class="fr"/>
<line x1="72.9" y1="377.3" x2="75.5" y2="377.3" class="tk"/>
<line x1="72.9" y1="441.4" x2="75.5" y2="441.4" class="tk"/>
<line x1="72.9" y1="505.6" x2="75.5" y2="505.6" class="tk"/>
<line x1="91.5" y1="553.3" x2="91.5" y2="550.7" class="tk"/>
<line x1="123.7" y1="553.3" x2="123.7" y2="550.7" class="tk"/>
<line x1="155.9" y1="553.3" x2="155.9" y2="550.7" class="tk"/>
<line x1="188.1" y1="553.3" x2="188.1" y2="550.7" class="tk"/>
<line x1="220.3" y1="553.3" x2="220.3" y2="550.7" class="tk"/>
<line x1="252.5" y1="553.3" x2="252.5" y2="550.7" class="tk"/>
<line x1="284.7" y1="553.3" x2="284.7" y2="550.7" class="tk"/>
<text x="57" y="381.2" class="yl">0.100</text>
<text x="57" y="445.3" class="yl">0.075</text>
<text x="57" y="509.5" class="yl">0.050</text>
<text x="78.9" y="569.8" textLength="26" lengthAdjust="spacingAndGlyphs" class="xl">MS1</text>
<text x="111.8" y="569.8" textLength="27" lengthAdjust="spacingAndGlyphs" class="xl">MS2</text>
<text x="141.5" y="569.8" textLength="27" lengthAdjust="spacingAndGlyphs" class="xl">MS3</text>
<text x="174.4" y="569.8" textLength="27" lengthAdjust="spacingAndGlyphs" class="xl">MS4</text>
<text x="204.1" y="569.8" textLength="27" lengthAdjust="spacingAndGlyphs" class="xl">MS5</text>
<text x="237" y="569.8" textLength="27.4" lengthAdjust="spacingAndGlyphs" class="xl">MS6</text>
<text x="266.7" y="569.8" textLength="26.3" lengthAdjust="spacingAndGlyphs" class="xl">MS7</text>
<line x1="377.9" y1="351.2" x2="628.9" y2="351.2" class="g"/>
<line x1="377.9" y1="392.4" x2="628.9" y2="392.4" class="g"/>
<line x1="377.9" y1="434.2" x2="628.9" y2="434.2" class="g"/>
<line x1="377.9" y1="475.4" x2="628.9" y2="475.4" class="g"/>
<line x1="377.9" y1="516.7" x2="628.9" y2="516.7" class="g"/>
<line x1="398.5" y1="322.5" x2="398.5" y2="550.1" class="g"/>
<line x1="433.52" y1="322.5" x2="433.52" y2="550.1" class="g"/>
<line x1="468.54" y1="322.5" x2="468.54" y2="550.1" class="g"/>
<line x1="503.56" y1="322.5" x2="503.56" y2="550.1" class="g"/>
<line x1="538.58" y1="322.5" x2="538.58" y2="550.1" class="g"/>
<line x1="573.6" y1="322.5" x2="573.6" y2="550.1" class="g"/>
<line x1="608.62" y1="322.5" x2="608.62" y2="550.1" class="g"/>
<line x1="391.5" y1="437.4" x2="391.5" y2="505.2" class="w"/>
<rect x="387" y="458.3" width="8.9" height="28" fill="#0c468a" class="bx"/>
<line x1="387" y1="476.4" x2="395.9" y2="476.4" class="m"/>
<line x1="405.5" y1="402.3" x2="405.5" y2="505.5" class="w"/>
<rect x="401" y="439.3" width="9.1" height="36.2" fill="#e5141a" class="bx"/>
<line x1="401" y1="463.6" x2="410.1" y2="463.6" class="m"/>
<line x1="426.5" y1="432.1" x2="426.5" y2="509.7" class="w"/>
<rect x="421.5" y="457.4" width="9.1" height="24.5" fill="#0c468a" class="bx"/>
<line x1="421.5" y1="470.3" x2="430.6" y2="470.3" class="m"/>
<line x1="440.5" y1="396.7" x2="440.5" y2="505.5" class="w"/>
<rect x="435.7" y="433.2" width="9.1" height="37.3" fill="#e5141a" class="bx"/>
<line x1="435.7" y1="456.4" x2="444.8" y2="456.4" class="m"/>
<line x1="461.5" y1="413.3" x2="461.5" y2="527.8" class="w"/>
<rect x="457" y="457.4" width="9.1" height="45.9" fill="#0c468a" class="bx"/>
<line x1="457" y1="485.8" x2="466.1" y2="485.8" class="m"/>
<line x1="475.5" y1="411.4" x2="475.5" y2="513.5" class="w"/>
<rect x="471.2" y="456.4" width="9.1" height="37.4" fill="#e5141a" class="bx"/>
<line x1="471.2" y1="463.6" x2="480.3" y2="463.6" class="m"/>
<line x1="496.5" y1="405.6" x2="496.5" y2="516.9" class="w"/>
<rect x="492.1" y="441.2" width="9.1" height="38.6" fill="#0c468a" class="bx"/>
<line x1="492.1" y1="456.4" x2="501.2" y2="456.4" class="m"/>
<line x1="510.5" y1="412.4" x2="510.5" y2="498.6" class="w"/>
<rect x="506.1" y="435.5" width="9.1" height="39.9" fill="#e5141a" class="bx"/>
<line x1="506.1" y1="459.5" x2="515.2" y2="459.5" class="m"/>
<line x1="531.5" y1="454.4" x2="531.5" y2="540.9" class="w"/>
<rect x="526.6" y="466.6" width="9.2" height="39.6" fill="#0c468a" class="bx"/>
<line x1="526.6" y1="487.7" x2="535.8" y2="487.7" class="m"/>
<line x1="545.5" y1="382.9" x2="545.5" y2="512.4" class="w"/>
<rect x="540.8" y="442.1" width="9.1" height="53.9" fill="#e5141a" class="bx"/>
<line x1="540.8" y1="472.4" x2="549.9" y2="472.4" class="m"/>
<line x1="566.5" y1="402.9" x2="566.5" y2="521" class="w"/>
<rect x="561.7" y="445.9" width="8.9" height="31" fill="#0c468a" class="bx"/>
<line x1="561.7" y1="466.2" x2="570.6" y2="466.2" class="m"/>
<line x1="580.5" y1="403.6" x2="580.5" y2="503" class="w"/>
<rect x="575.5" y="424.8" width="9.3" height="48.4" fill="#e5141a" class="bx"/>
<line x1="575.5" y1="447.2" x2="584.8" y2="447.2" class="m"/>
<line x1="601.5" y1="438.7" x2="601.5" y2="531.4" class="w"/>
<rect x="596.8" y="462.4" width="8.9" height="30.2" fill="#0c468a" class="bx"/>
<line x1="596.8" y1="479.7" x2="605.7" y2="479.7" class="m"/>
<line x1="615.5" y1="422" x2="615.5" y2="503.9" class="w"/>
<rect x="610.6" y="447.2" width="9.3" height="45.2" fill="#e5141a" class="bx"/>
<line x1="610.6" y1="470.9" x2="619.9" y2="470.9" class="m"/>
<circle cx="391.7" cy="535.3" r="1.5" fill="#111"/>
<circle cx="475.8" cy="385.6" r="1.5" fill="#111"/>
<circle cx="531.3" cy="335.5" r="1.5" fill="#111"/>
<circle cx="531.3" cy="391" r="1.5" fill="#111"/>
<circle cx="545" cy="332.5" r="1.5" fill="#111"/>
<circle cx="566.4" cy="389.6" r="1.5" fill="#111"/>
<circle cx="601.5" cy="388.4" r="1.5" fill="#111"/>
<circle cx="615.2" cy="340.1" r="1.5" fill="#111"/>
<g class="pb">
<circle cx="393" cy="437.4" r="1.55"/>
<circle cx="394" cy="442.8" r="1.55"/>
<circle cx="390.8" cy="451.1" r="1.55"/>
<circle cx="393" cy="451.1" r="1.55"/>
<circle cx="392.5" cy="455.9" r="1.55"/>
<circle cx="394.9" cy="461.2" r="1.55"/>
<circle cx="393" cy="466.9" r="1.55"/>
<circle cx="394" cy="470.7" r="1.55"/>
<circle cx="391.7" cy="473.5" r="1.55"/>
<circle cx="389.6" cy="476.4" r="1.55"/>
<circle cx="391.5" cy="478.3" r="1.55"/>
<circle cx="393.4" cy="481.5" r="1.55"/>
<circle cx="391.1" cy="483" r="1.55"/>
<circle cx="389.8" cy="489.8" r="1.55"/>
<circle cx="393" cy="496.1" r="1.55"/>
<circle cx="388.3" cy="499.3" r="1.55"/>
<circle cx="392.1" cy="505.2" r="1.55"/>
<circle cx="390.2" cy="535.3" r="1.55"/>
</g>
<g class="pr">
<circle cx="405.7" cy="402.3" r="1.55"/>
<circle cx="406.9" cy="412.8" r="1.55"/>
<circle cx="408.2" cy="415.1" r="1.55"/>
<circle cx="405.4" cy="431.2" r="1.55"/>
<circle cx="404" cy="437.4" r="1.55"/>
<circle cx="404.8" cy="446.4" r="1.55"/>
<circle cx="405.9" cy="455.5" r="1.55"/>
<circle cx="406.3" cy="460.6" r="1.55"/>
<circle cx="403.5" cy="464" r="1.55"/>
<circle cx="406.9" cy="466.5" r="1.55"/>
<circle cx="405.4" cy="469.7" r="1.55"/>
<circle cx="407.3" cy="474.5" r="1.55"/>
<circle cx="403.5" cy="475.4" r="1.55"/>
<circle cx="406.9" cy="477.7" r="1.55"/>
<circle cx="402.9" cy="481.5" r="1.55"/>
<circle cx="406.5" cy="491.4" r="1.55"/>
<circle cx="405.4" cy="505.5" r="1.55"/>
</g>
<g class="pb">
<circle cx="429.5" cy="432.1" r="1.55"/>
<circle cx="426.8" cy="450.4" r="1.55"/>
<circle cx="423.4" cy="452.3" r="1.55"/>
<circle cx="425.3" cy="455.5" r="1.55"/>
<circle cx="429.1" cy="460.2" r="1.55"/>
<circle cx="427.2" cy="465.9" r="1.55"/>
<circle cx="424.3" cy="470.3" r="1.55"/>
<circle cx="428.1" cy="473.5" r="1.55"/>
<circle cx="425.3" cy="476.4" r="1.55"/>
<circle cx="427.2" cy="479.2" r="1.55"/>
<circle cx="428.5" cy="485" r="1.55"/>
<circle cx="424.3" cy="489" r="1.55"/>
<circle cx="424.7" cy="499.9" r="1.55"/>
<circle cx="428.1" cy="500.8" r="1.55"/>
<circle cx="426.6" cy="509.7" r="1.55"/>
</g>
<g class="pr">
<circle cx="440.9" cy="396.8" r="1.55"/>
<circle cx="438.7" cy="399.4" r="1.55"/>
<circle cx="442.5" cy="428" r="1.55"/>
<circle cx="440.7" cy="430.6" r="1.55"/>
<circle cx="443.3" cy="432" r="1.55"/>
<circle cx="439.5" cy="440.9" r="1.55"/>
<circle cx="437.6" cy="450.7" r="1.55"/>
<circle cx="440.5" cy="456.4" r="1.55"/>
<circle cx="442.9" cy="460.2" r="1.55"/>
<circle cx="439.5" cy="461.2" r="1.55"/>
<circle cx="436.7" cy="465.3" r="1.55"/>
<circle cx="441.4" cy="468.8" r="1.55"/>
<circle cx="443.7" cy="471.6" r="1.55"/>
<circle cx="442.4" cy="477.2" r="1.55"/>
<circle cx="437.4" cy="490.5" r="1.55"/>
<circle cx="440.1" cy="505.5" r="1.55"/>
</g>
<g class="pb">
<circle cx="464.4" cy="413.3" r="1.55"/>
<circle cx="459.5" cy="419.4" r="1.55"/>
<circle cx="459.1" cy="441" r="1.55"/>
<circle cx="463.8" cy="452.3" r="1.55"/>
<circle cx="463.3" cy="463.1" r="1.55"/>
<circle cx="462.3" cy="467.8" r="1.55"/>
<circle cx="463.6" cy="472" r="1.55"/>
<circle cx="459.6" cy="482" r="1.55"/>
<circle cx="461.4" cy="485.8" r="1.55"/>
<circle cx="463.5" cy="487.3" r="1.55"/>
<circle cx="461.7" cy="505" r="1.55"/>
<circle cx="462.9" cy="510.7" r="1.55"/>
<circle cx="461.4" cy="525.1" r="1.55"/>
<circle cx="463.6" cy="526.4" r="1.55"/>
<circle cx="459.8" cy="527.8" r="1.55"/>
</g>
<g class="pr">
<circle cx="478.5" cy="411.4" r="1.55"/>
<circle cx="476.5" cy="430.8" r="1.55"/>
<circle cx="476.5" cy="453.6" r="1.55"/>
<circle cx="474.3" cy="455.9" r="1.55"/>
<circle cx="477.5" cy="458.3" r="1.55"/>
<circle cx="473.7" cy="463.1" r="1.55"/>
<circle cx="477.5" cy="463.6" r="1.55"/>
<circle cx="473.7" cy="471.6" r="1.55"/>
<circle cx="476.5" cy="475.4" r="1.55"/>
<circle cx="473.1" cy="479.2" r="1.55"/>
<circle cx="477.5" cy="492.5" r="1.55"/>
<circle cx="478.4" cy="495.2" r="1.55"/>
<circle cx="472.4" cy="498.4" r="1.55"/>
<circle cx="475" cy="500.2" r="1.55"/>
<circle cx="471.8" cy="504.6" r="1.55"/>
<circle cx="474.1" cy="513.5" r="1.55"/>
<circle cx="474.1" cy="385.6" r="1.55"/>
</g>
<g class="pb">
<circle cx="498.3" cy="405.6" r="1.55"/>
<circle cx="499" cy="429.5" r="1.55"/>
<circle cx="493" cy="437.6" r="1.55"/>
<circle cx="498.3" cy="437.5" r="1.55"/>
<circle cx="498.4" cy="440.3" r="1.55"/>
<circle cx="494.6" cy="456.4" r="1.55"/>
<circle cx="498.4" cy="456.4" r="1.55"/>
<circle cx="497.4" cy="467.8" r="1.55"/>
<circle cx="494.9" cy="472.6" r="1.55"/>
<circle cx="494.9" cy="478.3" r="1.55"/>
<circle cx="497.4" cy="489" r="1.55"/>
<circle cx="493" cy="506.5" r="1.55"/>
<circle cx="493.6" cy="515.4" r="1.55"/>
<circle cx="492.7" cy="516.9" r="1.55"/>
</g>
<g class="pr">
<circle cx="512.7" cy="412.1" r="1.55"/>
<circle cx="512.3" cy="416.9" r="1.55"/>
<circle cx="508.6" cy="418.7" r="1.55"/>
<circle cx="509.5" cy="427.5" r="1.55"/>
<circle cx="512.3" cy="429.3" r="1.55"/>
<circle cx="508.5" cy="442.4" r="1.55"/>
<circle cx="509.9" cy="456.7" r="1.55"/>
<circle cx="508.2" cy="460.5" r="1.55"/>
<circle cx="512.9" cy="463.7" r="1.55"/>
<circle cx="509.5" cy="470.9" r="1.55"/>
<circle cx="511.4" cy="479.9" r="1.55"/>
<circle cx="508.9" cy="488.8" r="1.55"/>
<circle cx="512.3" cy="494.7" r="1.55"/>
<circle cx="511.4" cy="498.6" r="1.55"/>
</g>
<g class="pb">
<circle cx="531.3" cy="454.4" r="1.55"/>
<circle cx="529.4" cy="461.4" r="1.55"/>
<circle cx="531.9" cy="471.5" r="1.55"/>
<circle cx="530.4" cy="483.3" r="1.55"/>
<circle cx="533.2" cy="483.3" r="1.55"/>
<circle cx="528.5" cy="488" r="1.55"/>
<circle cx="532.3" cy="490.8" r="1.55"/>
<circle cx="530.4" cy="494.6" r="1.55"/>
<circle cx="533.2" cy="500.3" r="1.55"/>
<circle cx="532.6" cy="510" r="1.55"/>
<circle cx="533.8" cy="518.7" r="1.55"/>
<circle cx="534.2" cy="540.9" r="1.55"/>
<circle cx="529.4" cy="335.5" r="1.55"/>
<circle cx="532.3" cy="390" r="1.55"/>
<circle cx="529.8" cy="392.2" r="1.55"/>
</g>
<g class="pr">
<circle cx="547.4" cy="382.9" r="1.55"/>
<circle cx="545.9" cy="426.9" r="1.55"/>
<circle cx="542.7" cy="435.8" r="1.55"/>
<circle cx="548.8" cy="440" r="1.55"/>
<circle cx="545" cy="444.7" r="1.55"/>
<circle cx="548.8" cy="459.9" r="1.55"/>
<circle cx="543.7" cy="462.4" r="1.55"/>
<circle cx="545.5" cy="476.6" r="1.55"/>
<circle cx="547.4" cy="487" r="1.55"/>
<circle cx="545" cy="490.8" r="1.55"/>
<circle cx="543.3" cy="494.1" r="1.55"/>
<circle cx="546.7" cy="495.8" r="1.55"/>
<circle cx="542.7" cy="498" r="1.55"/>
<circle cx="543.1" cy="506.8" r="1.55"/>
<circle cx="542.1" cy="510" r="1.55"/>
<circle cx="544.6" cy="512.4" r="1.55"/>
<circle cx="544.2" cy="332.5" r="1.55"/>
</g>
<g class="pb">
<circle cx="563.2" cy="402.9" r="1.55"/>
<circle cx="567" cy="414.5" r="1.55"/>
<circle cx="563.6" cy="429.2" r="1.55"/>
<circle cx="569.3" cy="444.7" r="1.55"/>
<circle cx="564.5" cy="451.9" r="1.55"/>
<circle cx="567.4" cy="456.1" r="1.55"/>
<circle cx="565.5" cy="465.2" r="1.55"/>
<circle cx="568.3" cy="466.7" r="1.55"/>
<circle cx="564" cy="468.1" r="1.55"/>
<circle cx="566.4" cy="470.9" r="1.55"/>
<circle cx="565.7" cy="478.6" r="1.55"/>
<circle cx="566.9" cy="483.9" r="1.55"/>
<circle cx="569.3" cy="488.1" r="1.55"/>
<circle cx="564.1" cy="492.8" r="1.55"/>
<circle cx="566" cy="521" r="1.55"/>
<circle cx="569.3" cy="389.6" r="1.55"/>
</g>
<g class="pr">
<circle cx="582.6" cy="403.5" r="1.55"/>
<circle cx="579.5" cy="409.2" r="1.55"/>
<circle cx="582" cy="413.4" r="1.55"/>
<circle cx="581.1" cy="416" r="1.55"/>
<circle cx="583.5" cy="422.5" r="1.55"/>
<circle cx="582.6" cy="428.2" r="1.55"/>
<circle cx="583.5" cy="440.9" r="1.55"/>
<circle cx="578.2" cy="444.7" r="1.55"/>
<circle cx="582.6" cy="461" r="1.55"/>
<circle cx="578.8" cy="465.6" r="1.55"/>
<circle cx="581.6" cy="473" r="1.55"/>
<circle cx="582.9" cy="478.1" r="1.55"/>
<circle cx="581.2" cy="479.7" r="1.55"/>
<circle cx="577.8" cy="498.6" r="1.55"/>
<circle cx="577.2" cy="503.3" r="1.55"/>
</g>
<g class="pb">
<circle cx="603.4" cy="438.7" r="1.55"/>
<circle cx="598.7" cy="453.8" r="1.55"/>
<circle cx="599.6" cy="461.4" r="1.55"/>
<circle cx="599.3" cy="466.7" r="1.55"/>
<circle cx="603.4" cy="472.8" r="1.55"/>
<circle cx="598.7" cy="476.6" r="1.55"/>
<circle cx="603.4" cy="479.8" r="1.55"/>
<circle cx="601.5" cy="488" r="1.55"/>
<circle cx="598.7" cy="492.7" r="1.55"/>
<circle cx="604.2" cy="497.5" r="1.55"/>
<circle cx="601" cy="501.3" r="1.55"/>
<circle cx="597.7" cy="508.3" r="1.55"/>
<circle cx="604.2" cy="531.5" r="1.55"/>
<circle cx="603.8" cy="388.4" r="1.55"/>
</g>
<g class="pr">
<circle cx="616.7" cy="422" r="1.55"/>
<circle cx="618.6" cy="440" r="1.55"/>
<circle cx="612.5" cy="442.4" r="1.55"/>
<circle cx="613.9" cy="443.8" r="1.55"/>
<circle cx="615.2" cy="451" r="1.55"/>
<circle cx="615.8" cy="460.5" r="1.55"/>
<circle cx="617.7" cy="464.3" r="1.55"/>
<circle cx="617.3" cy="470.9" r="1.55"/>
<circle cx="613.3" cy="483.3" r="1.55"/>
<circle cx="614.4" cy="488" r="1.55"/>
<circle cx="613.3" cy="490.6" r="1.55"/>
<circle cx="617.7" cy="493.8" r="1.55"/>
<circle cx="615.8" cy="497.5" r="1.55"/>
<circle cx="612.5" cy="499.5" r="1.55"/>
<circle cx="618.6" cy="503.9" r="1.55"/>
<circle cx="617.7" cy="340.1" r="1.55"/>
</g>
<line x1="390.4" y1="382.1" x2="404" y2="382.1" class="s"/>
<text x="397.8" y="385.6" class="st">*</text>
<line x1="425.5" y1="380.2" x2="439.7" y2="380.2" class="s"/>
<text x="433.1" y="383.7" class="st">*</text>
<line x1="600.6" y1="334" x2="614.8" y2="334" class="s"/>
<text x="607.2" y="337.7" class="st">*</text>
<rect x="377.9" y="322.5" width="251" height="227.6" class="fr"/>
<line x1="377.9" y1="351.2" x2="380.5" y2="351.2" class="tk"/>
<line x1="377.9" y1="392.4" x2="380.5" y2="392.4" class="tk"/>
<line x1="377.9" y1="434.2" x2="380.5" y2="434.2" class="tk"/>
<line x1="377.9" y1="475.4" x2="380.5" y2="475.4" class="tk"/>
<line x1="377.9" y1="516.7" x2="380.5" y2="516.7" class="tk"/>
<line x1="398.5" y1="550.1" x2="398.5" y2="547.5" class="tk"/>
<line x1="433.52" y1="550.1" x2="433.52" y2="547.5" class="tk"/>
<line x1="468.54" y1="550.1" x2="468.54" y2="547.5" class="tk"/>
<line x1="503.56" y1="550.1" x2="503.56" y2="547.5" class="tk"/>
<line x1="538.58" y1="550.1" x2="538.58" y2="547.5" class="tk"/>
<line x1="573.6" y1="550.1" x2="573.6" y2="547.5" class="tk"/>
<line x1="608.62" y1="550.1" x2="608.62" y2="547.5" class="tk"/>
<text x="365.3" y="355.1" class="yl">5</text>
<text x="365.3" y="396.3" class="yl">4</text>
<text x="365.3" y="437.9" class="yl">3</text>
<text x="365.3" y="479.3" class="yl">2</text>
<text x="365.3" y="520.6" class="yl">1</text>
<text x="399.2" y="569.8" textLength="26.4" lengthAdjust="spacingAndGlyphs" class="xl">MS1</text>
<text x="431.5" y="569.8" textLength="27.6" lengthAdjust="spacingAndGlyphs" class="xl">MS2</text>
<text x="461" y="569.8" textLength="28.1" lengthAdjust="spacingAndGlyphs" class="xl">MS3</text>
<text x="493.8" y="569.8" textLength="27.6" lengthAdjust="spacingAndGlyphs" class="xl">MS4</text>
<text x="526.5" y="569.8" textLength="27.6" lengthAdjust="spacingAndGlyphs" class="xl">MS5</text>
<text x="562.7" y="569.8" textLength="27.7" lengthAdjust="spacingAndGlyphs" class="xl">MS6</text>
<text x="595.5" y="569.8" textLength="27.2" lengthAdjust="spacingAndGlyphs" class="xl">MS7</text>
<line x1="650.6" y1="107.9" x2="650.6" y2="120.8" class="w"/>
<rect x="644.5" y="110.4" width="12.4" height="7.9" fill="#0c468a" class="bx"/>
<line x1="644.5" y1="114.35" x2="656.9" y2="114.35" class="m" style="stroke-width:.9"/>
<circle cx="650.6" cy="114.35" r="1.5" class="pb1"/>
<text x="662.5" y="116.8" class="lg">Pre</text>
<line x1="650.6" y1="122.8" x2="650.6" y2="135.7" class="w"/>
<rect x="644.5" y="125.3" width="12.4" height="7.9" fill="#e5141a" class="bx"/>
<line x1="644.5" y1="129.25" x2="656.9" y2="129.25" class="m" style="stroke-width:.9"/>
<circle cx="650.6" cy="129.25" r="1.5" class="pr1"/>
<text x="662.5" y="131.7" class="lg">Post</text>
<line x1="650.6" y1="425" x2="650.6" y2="437.9" class="w"/>
<rect x="644.5" y="427.5" width="12.4" height="7.9" fill="#0c468a" class="bx"/>
<line x1="644.5" y1="431.45" x2="656.9" y2="431.45" class="m" style="stroke-width:.9"/>
<circle cx="650.6" cy="431.45" r="1.5" class="pb1"/>
<text x="662.5" y="433.9" class="lg">Pre</text>
<line x1="650.6" y1="439.9" x2="650.6" y2="452.8" class="w"/>
<rect x="644.5" y="442.4" width="12.4" height="7.9" fill="#e5141a" class="bx"/>
<line x1="644.5" y1="446.35" x2="656.9" y2="446.35" class="m" style="stroke-width:.9"/>
<circle cx="650.6" cy="446.35" r="1.5" class="pr1"/>
<text x="662.5" y="448.8" class="lg">Post</text>
<text x="12.8" y="15.9" class="pl">A</text>
<text x="341.8" y="15.9" class="pl">B</text>
<text x="13.2" y="330.9" class="pl">C</text>
<text x="341.6" y="330.9" class="pl">D</text>
<text x="325.2" y="281.7" class="tt">F3</text>
<text x="327.5" y="585" class="tt">Pz</text>
<text transform="translate(19.8,120.4) rotate(-90) scale(1.01,1.09)" class="ya">Duraton</text>
<text transform="translate(342.8,126.3) rotate(-90) scale(1.01,1.09)" class="ya">Occurrence[s-1]</text>
<text transform="translate(14.4,443.4) rotate(-90) scale(1.015,1.09)" class="ya">Duratrion[ms]</text>
<text transform="translate(342.8,443) rotate(-90) scale(1.01,1.09)" class="ya">Occurrence[s-1]</text>
</svg>
</body></html>
